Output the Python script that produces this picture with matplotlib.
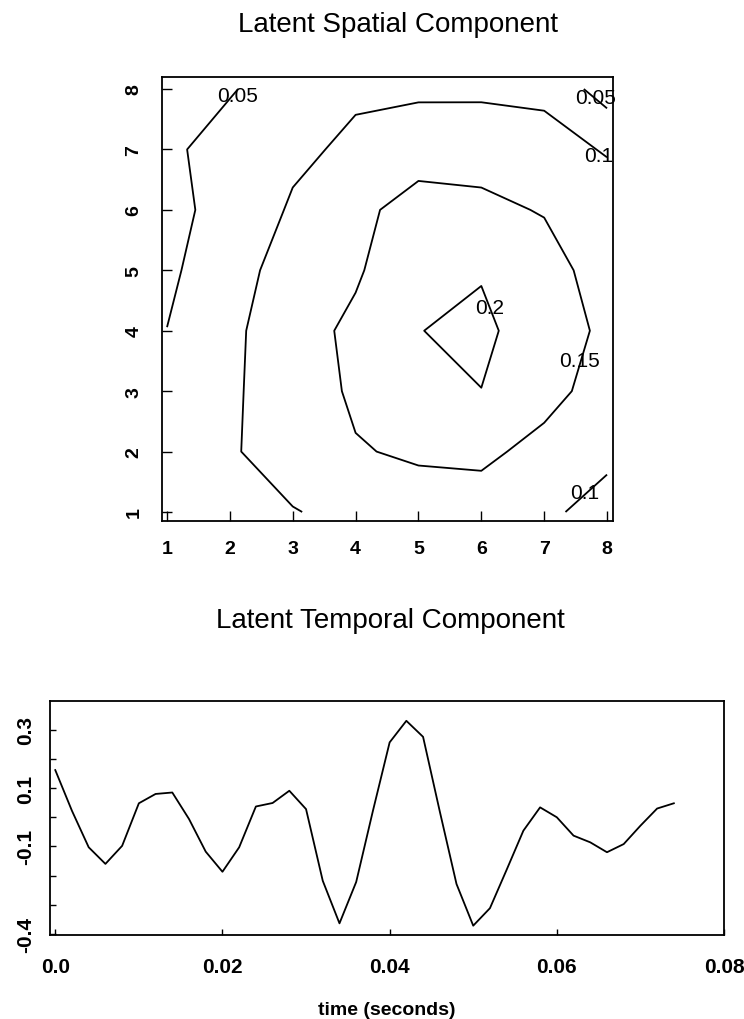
import numpy as np
import matplotlib
matplotlib.use("Agg")
import matplotlib.pyplot as plt
from matplotlib.ticker import FixedLocator, FixedFormatter

plt.rcParams['font.family'] = ['Liberation Sans', 'DejaVu Sans']

# spatial component on an 8x8 grid (rows = y 1..8, columns = x 1..8)
grid_x = [1, 2, 3, 4, 5, 6, 7, 8]
grid_y = [1, 2, 3, 4, 5, 6, 7, 8]
row_y1 = [0.060, 0.070, 0.097, 0.117, 0.130, 0.135, 0.120, 0.061]
row_y2 = [0.070, 0.0934, 0.130, 0.147, 0.156, 0.157, 0.140, 0.124]
row_y3 = [0.070, 0.0927, 0.126, 0.1567, 0.185, 0.1994, 0.161, 0.136]
row_y4 = [0.0505, 0.0871, 0.1368, 0.1568, 0.199, 0.210, 0.174, 0.141]
row_y5 = [0.042, 0.0769, 0.125, 0.146, 0.175, 0.1965, 0.165, 0.133]
row_y6 = [0.0292, 0.0754, 0.104, 0.1449, 0.158, 0.1578, 0.1478, 0.134]
row_y7 = [0.0406, 0.070, 0.0932, 0.1063, 0.1413, 0.1367, 0.125, 0.0949]
row_y8 = [0.035, 0.0462, 0.0754, 0.0953, 0.0883, 0.0897, 0.086, 0.0289]
levels = [0.05, 0.1, 0.15, 0.2]
level_labels = ["0.05", "0.05", "0.1", "0.2", "0.15", "0.1"]

# temporal component, sampled every 2 ms
time_s = np.arange(38) * 0.002
temporal = [0.162, 0.022, -0.103, -0.160, -0.098, 0.048, 0.080, 0.085,
            -0.006, -0.118, -0.187, -0.103, 0.037, 0.049, 0.091, 0.028,
            -0.218, -0.364, -0.222, 0.022, 0.257, 0.331, 0.276, 0.020,
            -0.229, -0.372, -0.312, -0.180, -0.046, 0.034, 0.0, -0.063,
            -0.086, -0.120, -0.092, -0.029, 0.030, 0.048]
y_ticks = [-0.4, -0.3, -0.2, -0.1, 0.0, 0.1, 0.2, 0.3]
y_ticklabels = ["-0.4", "", "", "-0.1", "", "0.1", "", "0.3"]
x_ticks = [0.0, 0.02, 0.04, 0.06, 0.08]
x_ticklabels = ["0.0", "0.02", "0.04", "0.06", "0.08"]

W, H = 744, 1020
fig = plt.figure(figsize=(W / 100, H / 100), dpi=100)

def box(l, t, r, b):
    return [l / W, 1 - b / H, (r - l) / W, (b - t) / H]

# ---- top: contour plot
ax1 = fig.add_axes(box(162, 78, 613, 522))
Z = np.array([row_y1, row_y2, row_y3, row_y4, row_y5, row_y6, row_y7, row_y8])
ax1.contour(grid_x, grid_y, Z, levels=levels, colors='black', linewidths=1.3)
label_pos = [(2.12, 7.89), (7.82, 7.86), (7.86, 6.9), (6.14, 4.38), (7.56, 3.51), (7.65, 1.32)]
for (lx, ly), txt in zip(label_pos, level_labels):
    ax1.text(lx, ly, txt, fontsize=15, ha='center', va='center')
ax1.set_xlim(0.92, 8.095)
ax1.set_ylim(0.851, 8.199)
ax1.set_xticks(grid_x)
ax1.set_yticks(grid_y)
ax1.set_yticklabels([str(v) for v in grid_y], rotation=90, va='center')
ax1.tick_params(direction='in', length=7, width=1, labelsize=14)
ax1.tick_params(axis='x', pad=14)
ax1.tick_params(axis='y', pad=14)
for lab in ax1.get_xticklabels() + ax1.get_yticklabels():
    lab.set_fontweight('bold')
for s in ax1.spines.values():
    s.set_linewidth(1.3)
fig.text(398 / W, 1 - 25 / H, "Latent Spatial Component", fontsize=20,
         ha='center', va='center')

# ---- bottom: time course
ax2 = fig.add_axes(box(50, 702, 724, 936))
ax2.plot(time_s, temporal, color='black', linewidth=1.3)
ax2.set_xlim(-0.00063, 0.08)
ax2.set_ylim(-0.404, 0.399)
ax2.yaxis.set_major_locator(FixedLocator(y_ticks))
ax2.yaxis.set_major_formatter(FixedFormatter(y_ticklabels))
ax2.set_xticks(x_ticks)
ax2.set_xticklabels(x_ticklabels)
for lab in ax2.get_yticklabels():
    lab.set_rotation(90)
    lab.set_va('center')
for lab in ax2.get_xticklabels() + ax2.get_yticklabels():
    lab.set_fontweight('bold')
ax2.tick_params(direction='in', length=4, width=1, labelsize=15)
ax2.tick_params(axis='x', pad=16)
ax2.tick_params(axis='y', pad=11)
for s in ax2.spines.values():
    s.set_linewidth(1.3)
ax2.set_xlabel("time (seconds)", fontsize=14, labelpad=18, fontweight='bold')
fig.text(390 / W, 1 - 621 / H, "Latent Temporal Component", fontsize=20,
         ha='center', va='center')

fig.savefig("out.png", dpi=100)
